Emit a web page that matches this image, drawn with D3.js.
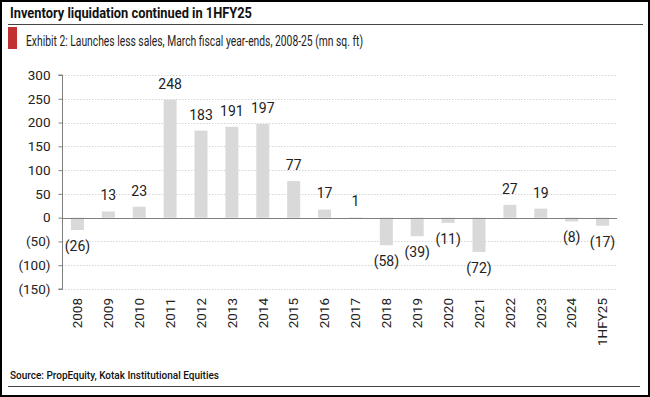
<!DOCTYPE html>
<html>
<head>
<meta charset="utf-8">
<script src="https://cdn.jsdelivr.net/npm/d3@7"></script>
<style>
  html, body { margin: 0; padding: 0; background: #fff; }
  svg { display: block; font-family: Roboto, "Liberation Sans", sans-serif; }
</style>
</head>
<body>
<svg width="650" height="397"></svg>
<script>
const categories = ['2008','2009','2010','2011','2012','2013','2014','2015','2016','2017','2018','2019','2020','2021','2022','2023','2024','1HFY25'];
const values = [-26, 13, 23, 248, 183, 191, 197, 77, 17, 1, -58, -39, -11, -72, 27, 19, -8, -17];
const yTicks = [-150, -100, -50, 0, 50, 100, 150, 200, 250, 300];

const svg = d3.select('svg');
const W = 650, H = 397;

// outer frame
svg.append('rect').attr('x', 1).attr('y', 1).attr('width', W - 2).attr('height', H - 2)
   .attr('fill', 'none').attr('stroke', '#000').attr('stroke-width', 2);

// heading
svg.append('text').attr('x', 10).attr('y', 18)
   .attr('font-size', 15).attr('font-weight', 'bold').attr('fill', '#111')
   .attr('textLength', 242).attr('lengthAdjust', 'spacingAndGlyphs')
   .text('Inventory liquidation continued in 1HFY25');
svg.append('line').attr('x1', 8).attr('x2', 643).attr('y1', 24.5).attr('y2', 24.5)
   .attr('stroke', '#444').attr('stroke-width', 1.2);

// exhibit bar + subtitle
svg.append('rect').attr('x', 8).attr('y', 27).attr('width', 9).attr('height', 22).attr('fill', '#c2312f');
svg.append('text').attr('x', 26).attr('y', 46)
   .attr('font-size', 14.5).attr('fill', '#222')
   .attr('textLength', 337).attr('lengthAdjust', 'spacingAndGlyphs')
   .text('Exhibit 2: Launches less sales, March fiscal year-ends, 2008-25 (mn sq. ft)');

const x = d3.scaleBand().domain(categories).range([62, 618]).paddingInner(0.58).paddingOuter(0.29);
const y = d3.scaleLinear().domain([-150, 300]).range([289, 75]);

const fmt = v => v < 0 ? '(' + Math.abs(v) + ')' : String(v);

// gridlines
svg.append('g').selectAll('line').data(yTicks.filter(t => t !== 0)).join('line')
   .attr('x1', 62).attr('x2', 617)
   .attr('y1', d => Math.round(y(d)) + 0.5).attr('y2', d => Math.round(y(d)) + 0.5)
   .attr('stroke', '#d4d4d4').attr('stroke-width', 1).attr('stroke-dasharray', '1.5,1.5');

// bars
svg.append('g').selectAll('rect').data(values).join('rect')
   .attr('x', (d, i) => x(categories[i]))
   .attr('width', x.bandwidth())
   .attr('y', d => y(Math.max(0, d)))
   .attr('height', d => Math.abs(y(d) - y(0)))
   .attr('fill', '#d9d9d9');

// zero line
svg.append('line').attr('x1', 62).attr('x2', 617)
   .attr('y1', Math.round(y(0)) + 0.5).attr('y2', Math.round(y(0)) + 0.5)
   .attr('stroke', '#7f7f7f').attr('stroke-width', 1.2);

// y axis
const yAxis = d3.axisLeft(y).tickValues(yTicks).tickSize(4).tickPadding(8).tickFormat(fmt);
const gy = svg.append('g').attr('transform', 'translate(62.5,0)').call(yAxis);
gy.select('.domain').attr('stroke', '#7f7f7f').attr('d', 'M-4,' + y(300) + 'H0V' + y(-150) + 'H-4');
gy.selectAll('.tick line').attr('stroke', '#7f7f7f');
gy.selectAll('.tick text').attr('font-size', 13.5).attr('fill', '#222')
  .attr('font-family', 'Roboto, sans-serif');

// x labels
const gx = svg.append('g').attr('transform', 'translate(0,' + 298 + ')')
   .call(d3.axisBottom(x).tickSize(0).tickPadding(0));
gx.select('.domain').remove();
gx.selectAll('.tick text')
  .attr('font-size', 13.5).attr('fill', '#222').attr('font-family', 'Roboto, sans-serif')
  .attr('transform', 'rotate(-90)').attr('text-anchor', 'end')
  .attr('x', 0).attr('y', 0).attr('dy', '0.35em');

// value labels
svg.append('g').selectAll('text').data(values).join('text')
   .attr('x', (d, i) => x(categories[i]) + x.bandwidth() / 2)
   .attr('y', d => d >= 0 ? y(d) - 16 : y(d) + 16)
   .attr('dy', '0.35em')
   .attr('text-anchor', 'middle')
   .attr('font-size', 14).attr('fill', '#222')
   .text(fmt);

// source + bottom rule
svg.append('text').attr('x', 10).attr('y', 379)
   .attr('font-size', 11).attr('font-weight', 500).attr('fill', '#111')
   .attr('textLength', 209).attr('lengthAdjust', 'spacingAndGlyphs')
   .text('Source: PropEquity, Kotak Institutional Equities');
svg.append('line').attr('x1', 8).attr('x2', 640).attr('y1', 386.5).attr('y2', 386.5)
   .attr('stroke', '#444').attr('stroke-width', 1.2);
</script>
</body>
</html>
